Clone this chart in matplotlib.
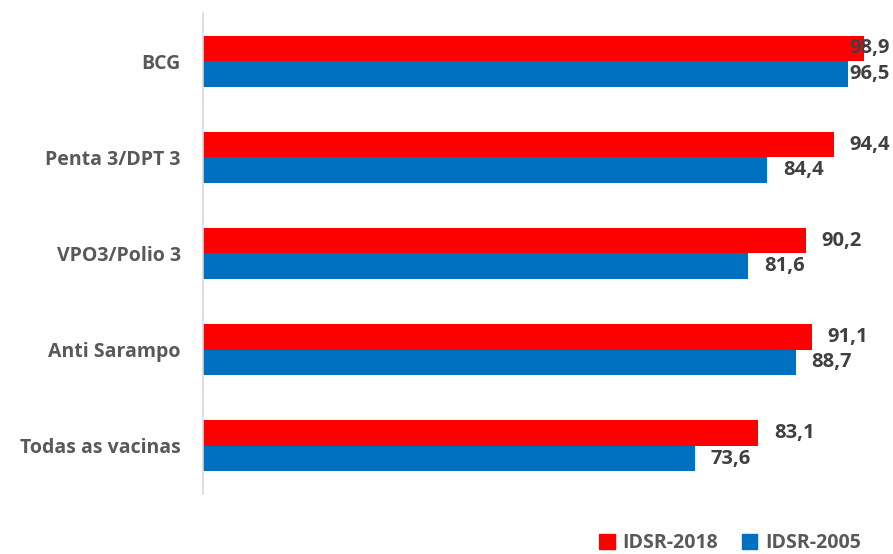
import matplotlib
matplotlib.use("Agg")
import matplotlib.pyplot as plt
import numpy as np
from matplotlib.patches import Patch

categories = ["BCG", "Penta 3/DPT 3", "VPO3/Polio 3", "Anti Sarampo", "Todas as vacinas"]
idsr_2018 = [98.9, 94.4, 90.2, 91.1, 83.1]
idsr_2005 = [96.5, 84.4, 81.6, 88.7, 73.6]
series_names = ["IDSR-2018", "IDSR-2005"]

RED = "#FF0000"
BLUE = "#0070C0"
FONT = "Open Sans"

W, H = 893, 554
fig = plt.figure(figsize=(W / 100, H / 100), dpi=100)
left, right = 203, 871
top, bottom = 13, 494
ax = fig.add_axes([left / W, 1 - bottom / H, (right - left) / W, (bottom - top) / H])

y = np.arange(len(categories))
bh = 0.265
ax.barh(y - bh / 2, idsr_2018, height=bh, color=RED)
ax.barh(y + bh / 2, idsr_2005, height=bh, color=BLUE)
ax.set_ylim(len(categories) - 0.5, -0.5)
ax.set_xlim(0, 100)

px = (right - left) / 100.0
off = 16 / px
limit = (849 - left) / px
for i in range(len(categories)):
    for v, yy in ((idsr_2018[i], y[i] - bh / 2), (idsr_2005[i], y[i] + bh / 2)):
        xx = min(v + off, limit)
        ax.text(xx, yy, f"{v:.1f}".replace(".", ","), ha="left", va="center",
                fontsize=14.5, fontweight="bold", color="#404040", family=FONT)

ax.set_yticks(y)
ax.set_yticklabels(categories, fontsize=14, fontweight="bold", color="#595959", family=FONT)
ax.tick_params(axis="y", length=0, pad=16)
ax.set_xticks([])
for s in ["top", "right", "bottom"]:
    ax.spines[s].set_visible(False)
ax.spines["left"].set_color("#D9D9D9")
ax.spines["left"].set_linewidth(1.2)

handles = [Patch(color=RED), Patch(color=BLUE)]
leg = fig.legend(handles, series_names, ncol=2, loc="center", bbox_to_anchor=(730 / W, 1 - 543 / H),
                 frameon=False, handlelength=0.8, handleheight=0.8, handletextpad=0.4,
                 columnspacing=1.2, borderpad=0.1, prop={"family": FONT, "weight": "bold", "size": 14})
for t in leg.get_texts():
    t.set_color("#595959")

fig.savefig("out.png", dpi=100)
